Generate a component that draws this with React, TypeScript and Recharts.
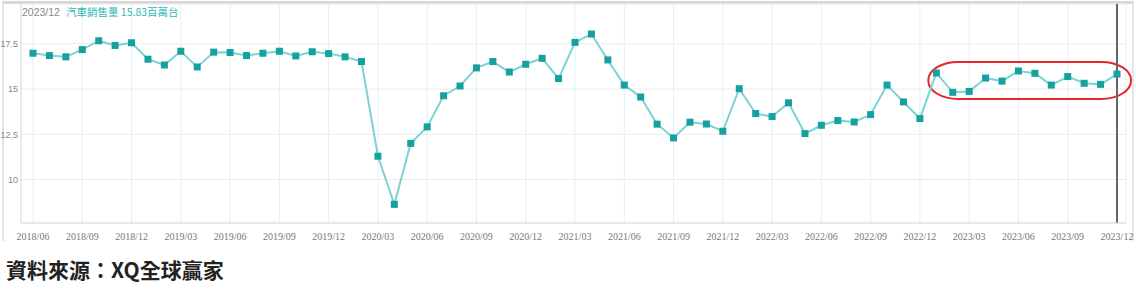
import { LineChart, Line, XAxis, YAxis, CartesianGrid, ReferenceLine, ReferenceArea } from "recharts";

const months = [
  "2018/06", "2018/07", "2018/08", "2018/09", "2018/10", "2018/11", "2018/12",
  "2019/01", "2019/02", "2019/03", "2019/04", "2019/05", "2019/06", "2019/07", "2019/08", "2019/09", "2019/10", "2019/11", "2019/12",
  "2020/01", "2020/02", "2020/03", "2020/04", "2020/05", "2020/06", "2020/07", "2020/08", "2020/09", "2020/10", "2020/11", "2020/12",
  "2021/01", "2021/02", "2021/03", "2021/04", "2021/05", "2021/06", "2021/07", "2021/08", "2021/09", "2021/10", "2021/11", "2021/12",
  "2022/01", "2022/02", "2022/03", "2022/04", "2022/05", "2022/06", "2022/07", "2022/08", "2022/09", "2022/10", "2022/11", "2022/12",
  "2023/01", "2023/02", "2023/03", "2023/04", "2023/05", "2023/06", "2023/07", "2023/08", "2023/09", "2023/10", "2023/11", "2023/12",
];

// 汽車銷售量 (百萬台)
const sales = [
  16.98, 16.85, 16.78, 17.18, 17.67, 17.41, 17.56,
  16.65, 16.33, 17.09, 16.22, 17.04, 17.02, 16.85, 16.98, 17.09, 16.83, 17.06, 16.96,
  16.78, 16.52, 11.29, 8.63, 12.0, 12.91, 14.63, 15.17, 16.17, 16.52, 15.94, 16.37,
  16.7, 15.58, 17.58, 18.04, 16.61, 15.22, 14.56, 13.06, 12.3, 13.17, 13.07, 12.67,
  15.02, 13.65, 13.48, 14.24, 12.54, 13.0, 13.26, 13.18, 13.59, 15.22, 14.29, 13.37,
  15.89, 14.82, 14.87, 15.61, 15.44, 16.0, 15.87, 15.22, 15.69, 15.32, 15.26, 15.83,
];

const xTicks = months.filter((_, i) => i % 3 === 0);
const yTicks = [10, 12.5, 15, 17.5];

const data = months.map((m, i) => ({ month: m, sales: sales[i] }));

const SquareDot = (props: any) => {
  const { cx, cy } = props;
  if (cx == null || cy == null) return null;
  return <rect x={cx - 3.5} y={cy - 3.5} width={7} height={7} fill="#16a0a0" />;
};

const Ellipse = (props: any) => {
  const { x, y, width, height } = props;
  return (
    <rect x={x - 8} y={y} width={width + 22} height={height} rx={30} ry={18}
      fill="none" stroke="#e5262b" strokeWidth={2} />
  );
};

export default function App() {
  return (
    <div style={{ position: "absolute", left: 0, top: 0, width: 1136, height: 295, background: "#fff" }}>
      <div style={{ position: "absolute", left: 2, top: 1, width: 1132, height: 240, borderTop: "3px solid #d8d8d8", borderLeft: "2px solid #e2e2e2", borderRight: "2px solid #e6e6e6", boxSizing: "border-box" }} />
      <LineChart width={1136} height={245} data={data} margin={{ top: 4, right: 10, left: 0, bottom: 0 }}
        style={{ position: "absolute", left: 0, top: 0 }}>
        <CartesianGrid stroke="#ececec" vertical={false} />
        <CartesianGrid stroke="#dff2f7" horizontal={false} />
        <XAxis dataKey="month" ticks={xTicks} interval={0} padding={{ left: 12, right: 9 }}
          tickLine={false} axisLine={{ stroke: "#dcdcdc" }} height={22} tickSize={0}
          tick={{ fontSize: 10, fill: "#777", fontFamily: "Liberation Serif" }} tickMargin={10} />
        <YAxis domain={[7.6, 19.7]} ticks={yTicks} width={21} tickLine={false} tickSize={0}
          axisLine={{ stroke: "#dcdcdc" }} tick={{ fontSize: 9, fill: "#888", fontFamily: "Liberation Sans" }} tickMargin={3} />
        <ReferenceArea x1="2023/01" x2="2023/12" y1={14.45} y2={16.5} shape={<Ellipse />} ifOverflow="visible" />
        <Line dataKey="sales" stroke="#7dd3d3" strokeWidth={2} dot={<SquareDot />} activeDot={false}
          isAnimationActive={false} />
        <ReferenceLine x="2023/12" stroke="#666" strokeWidth={2} />
      </LineChart>
      <div style={{ position: "absolute", left: 22, top: 4, fontSize: 10.5, fontFamily: "Liberation Sans", whiteSpace: "nowrap" }}>
        <span style={{ color: "#888" }}>2023/12</span>
        <span style={{ color: "#2fb8b8", marginLeft: 6, fontFamily: "Noto Sans CJK TC" }}>汽車銷售量 15.83百萬台</span>
      </div>
      <div style={{ position: "absolute", left: 6, top: 254, fontSize: 21, fontWeight: 700, color: "#222", fontFamily: "Noto Sans CJK TC", whiteSpace: "nowrap" }}>
        資料來源：XQ全球贏家
      </div>
    </div>
  );
}
